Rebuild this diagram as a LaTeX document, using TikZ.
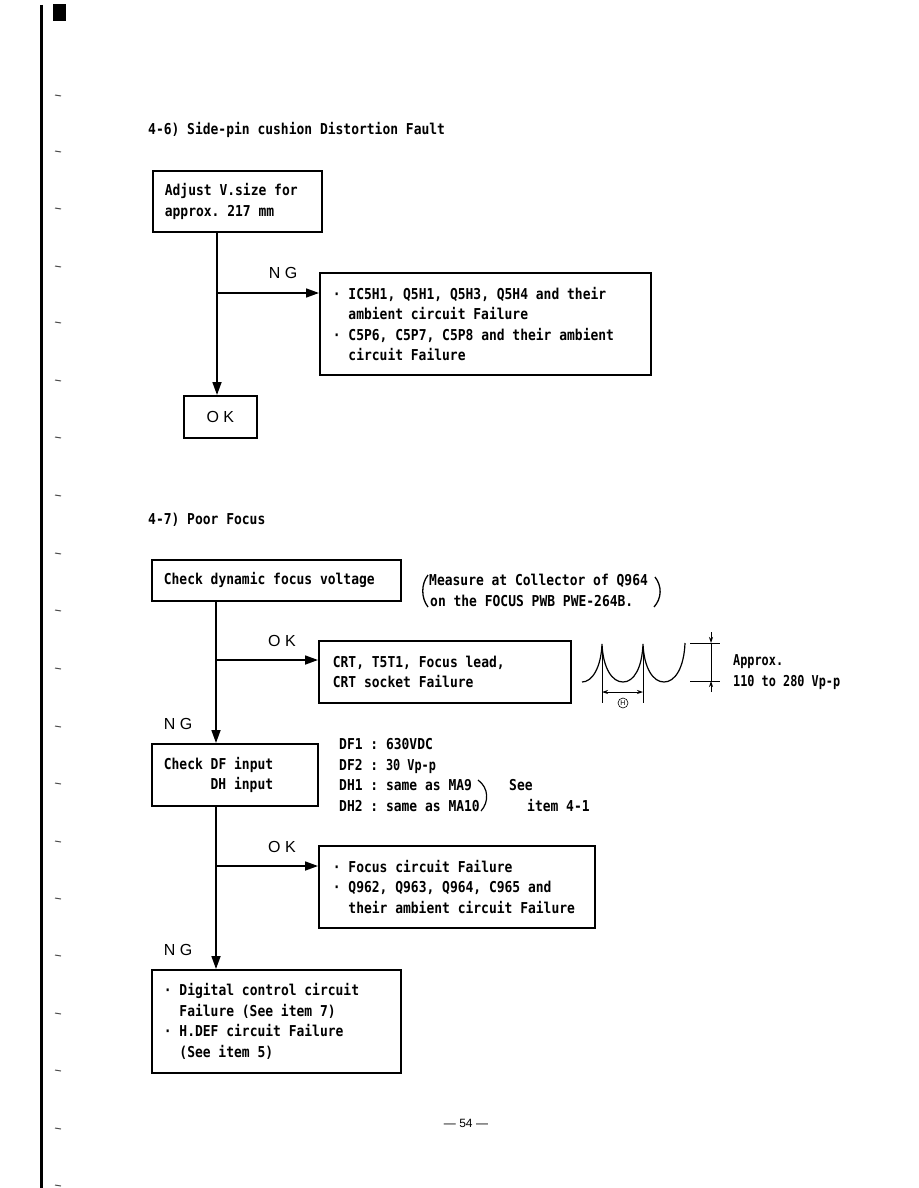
\documentclass[tikz,border=0pt]{standalone}
\usepackage{fontspec}
\usetikzlibrary{arrows.meta,calc}
\newfontfamily\dmono{DejaVu Sans Mono Bold}[FakeStretch=0.865]
\newfontfamily\dmonon{DejaVu Sans Mono Bold}[FakeStretch=0.79]
\newfontfamily\lblfont{Liberation Sans}
\newcommand{\mtext}{\dmono\fontsize{15}{20.5}\selectfont\spaceskip=7.81pt\relax\xspaceskip=7.81pt\relax}
\newcommand{\ntext}{\dmonon\fontsize{15}{20.5}\selectfont\spaceskip=7.13pt\relax\xspaceskip=7.13pt\relax}
\newcommand{\ltext}{\lblfont\fontsize{16}{18}\selectfont}
\newcommand{\hgap}{\hspace*{15.6pt}}
\begin{document}
\begin{tikzpicture}[x=1pt,y=-1pt,
  every node/.style={inner sep=0pt},
  box/.style={draw,line width=1.7pt,anchor=north west,align=left,inner xsep=12pt,inner ysep=0pt,font=\mtext,
    execute at begin node={\spaceskip=7.81pt\relax\xspaceskip=7.81pt\relax}},
  lbl/.style={font=\ltext,anchor=base},
  txt/.style={font=\mtext,anchor=base west},
  ntxt/.style={font=\ntext,anchor=base west},
  conn/.style={line width=1.7pt},
  arr/.style={line width=1.7pt,-{Triangle[length=13pt,width=9pt]}},
  thinl/.style={line width=0.9pt}]
\fill[white] (0,0) rectangle (918,1188);
\useasboundingbox (0,0) rectangle (918,1188);

% scan margin
\draw[line width=3pt] (41,5) -- (41,1188);
\fill (53,4) rectangle (66,21);
\foreach \yy in {95,151,208,266,322,380,437,495,553,610,668,726,783,841,898,955,1013,1070,1128,1185}
  \draw[line width=1pt,black!70] (55,\yy) -- (61,\yy+1);

% ---- 4-6 ----
\node[txt] (t1) at (148,135) {4-6) Side-pin cushion Distortion Fault};
\node[box,text width=145pt,minimum height=61pt] (b1) at (152,170) {Adjust V.size for\\approx. 217 mm};
\node[box,inner xsep=13pt,text width=305pt,minimum height=102pt] (b2) at (319,272)
  {· IC5H1, Q5H1, Q5H3, Q5H4 and their\\\hgap ambient circuit Failure\\· C5P6, C5P7, C5P8 and their ambient\\\hgap circuit Failure};
\node[draw,line width=1.7pt,minimum width=73pt,minimum height=42pt,font=\ltext,anchor=north west] (ok) at (183,395) {O K};
\node[lbl] (ng1) at (283,278) {N G};
\coordinate (j1) at (217,293);
\draw[conn] (b1.south -| j1) -- (j1);
\draw[arr] (j1) -- (ok.north -| j1);
\draw[arr] (j1) -- (b2.west |- j1);

% ---- 4-7 ----
\node[txt] (t2) at (148,524) {4-7) Poor Focus};
\node[box,text width=225pt,minimum height=41pt] (b3) at (151,559) {Check dynamic focus voltage};
\node[txt] (m1) at (429,585) {Measure at Collector of Q964};
\node[txt] (m2) at (430,606) {on the FOCUS PWB PWE-264B.};
\draw[line width=1.3pt] (428,575) .. controls (421,584) and (421,598) .. (428,607);
\draw[line width=1.3pt] (655,577) .. controls (662,586) and (662,598) .. (654,607);

\node[box,inner xsep=14pt,text width=224pt,minimum height=62pt] (b5) at (318,640) {CRT, T5T1, Focus lead,\\CRT socket Failure};
\node[lbl] (ok2) at (282,646) {O K};
\node[lbl] (ng2) at (178,729) {N G};
\node[box,text width=142pt,minimum height=62pt] (b4) at (151,743) {Check DF input\\\hspace*{46.8pt}DH input};
\coordinate (j2) at (216,660);
\draw[conn] (b3.south -| j2) -- (j2);
\draw[arr] (j2) -- (b4.north -| j2);
\draw[arr] (j2) -- (b5.west |- j2);

% waveform
\draw[line width=1.2pt] (582,682) .. controls (592,682) and (601,668) .. (602,644)
  .. controls (603,668) and (612,682) .. (623,682)
  .. controls (634,682) and (642,668) .. (643,644)
  .. controls (644,668) and (653,682) .. (664,682)
  .. controls (675,682) and (684,668) .. (685,643);
\draw[line width=0.7pt] (602,652) -- (602,703);
\draw[line width=0.7pt] (643,652) -- (643,703);
\draw[line width=0.8pt,{Stealth[length=6pt,width=4pt]}-{Stealth[length=6pt,width=4pt]}] (602,692) -- (643,692);
\node[circle,draw,line width=0.6pt,minimum size=10pt,font=\lblfont\fontsize{7}{8}\selectfont] (hc) at (623,703) {H};
\draw[line width=0.8pt] (690,643) -- (720,643);
\draw[line width=0.8pt] (690,681) -- (720,681);
\draw[line width=0.8pt,-{Stealth[length=6pt,width=4pt]}] (711,632) -- (711,643);
\draw[line width=0.8pt,-{Stealth[length=6pt,width=4pt]}] (711,692) -- (711,681);
\draw[line width=0.8pt] (711,643) -- (711,681);
\node[ntxt] (ap1) at (733,665) {Approx.};
\node[ntxt] (ap2) at (733,686) {110 to 280 Vp-p};

% DF/DH values
\node[txt] (d1) at (339,749) {DF1 : 630VDC};
\node[txt] (d2) at (339,770) {DF2 : \ntext 30 Vp-p};
\node[txt] (d3) at (339,790) {DH1 : same as MA9};
\node[txt] (d4) at (339,811) {DH2 : same as MA10};
\draw[line width=1.2pt] (478,780) .. controls (489,788) and (489,802) .. (481,811);
\node[txt] (see) at (509,790) {See};
\node[txt] (item) at (527,811) {item 4-1};

\node[box,inner xsep=14pt,text width=248pt,minimum height=82pt] (b6) at (318,845)
  {· Focus circuit Failure\\· Q962, Q963, Q964, C965 and\\\mbox{\hgap their ambient circuit Failure}};
\node[lbl] (ok3) at (282,852) {O K};
\node[lbl] (ng3) at (178,955) {N G};
\node[box,text width=225pt,minimum height=103pt] (b7) at (151,969)
  {· Digital control circuit\\\hgap Failure (See item 7)\\· H.DEF circuit Failure\\\hgap (See item 5)};
\coordinate (j3) at (216,866);
\draw[conn] (b4.south -| j3) -- (j3);
\draw[arr] (j3) -- (b7.north -| j3);
\draw[arr] (j3) -- (b6.west |- j3);

\node[font=\lblfont\fontsize{12}{14}\selectfont,anchor=base] (pg) at (466,1127) {— 54 —};
\end{tikzpicture}
\end{document}
